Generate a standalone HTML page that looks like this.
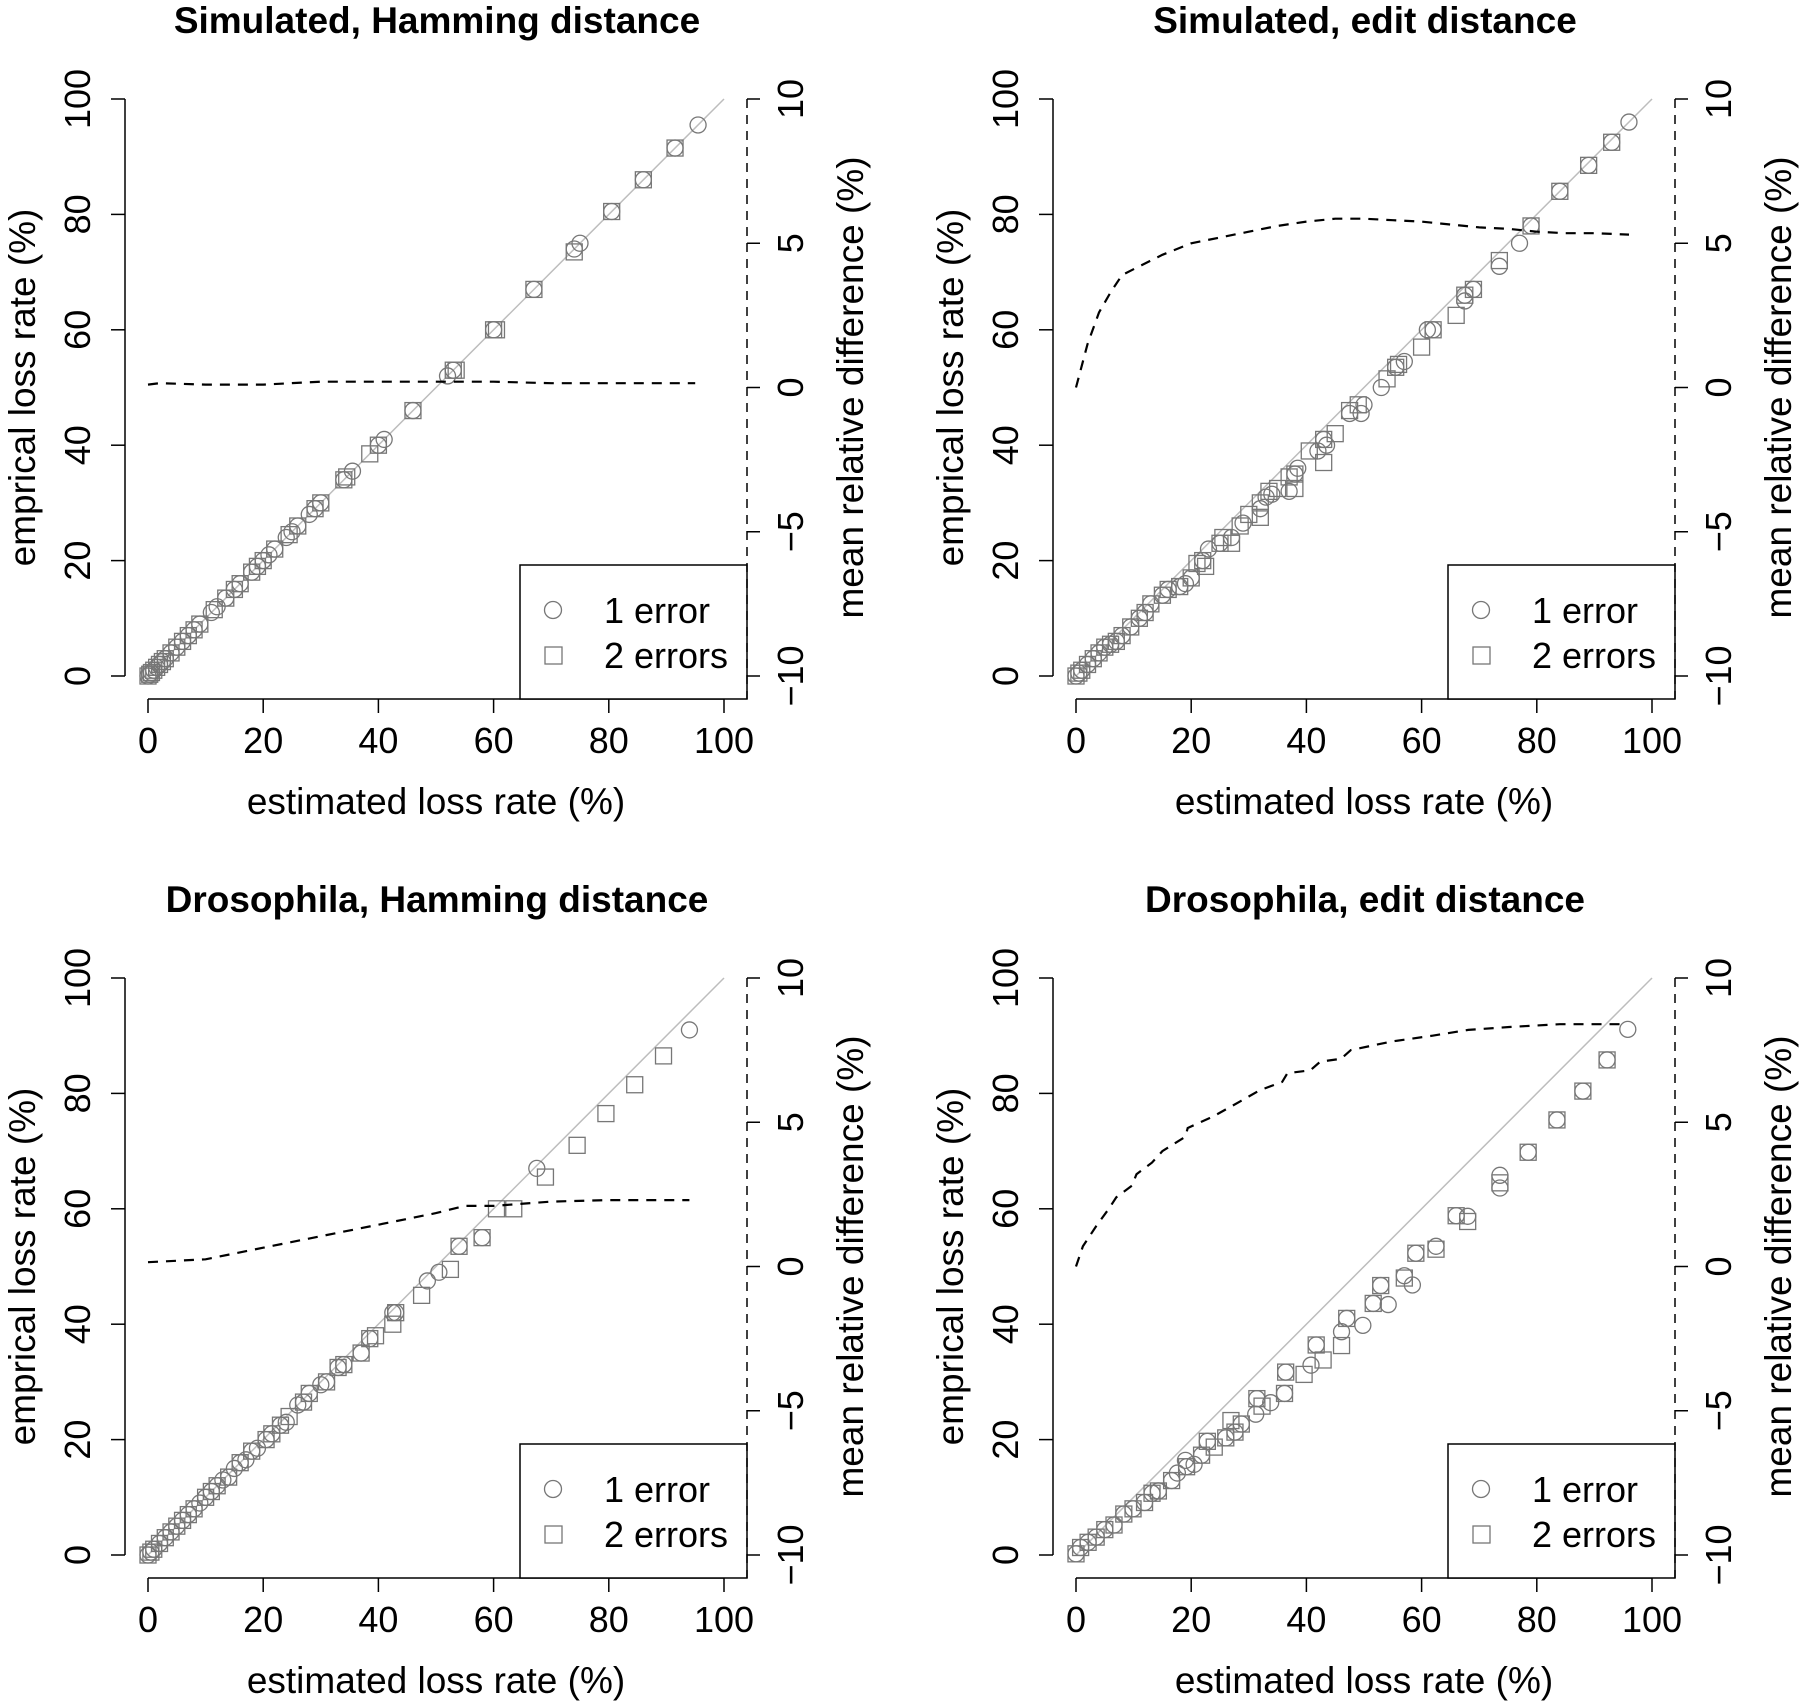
<!DOCTYPE html>
<html><head><meta charset="utf-8"><style>
html,body{margin:0;padding:0;background:#fff;}
svg{display:block;font-family:"Liberation Sans",Arial,sans-serif;}
</style></head><body>
<svg id="fig" width="1800" height="1702" viewBox="0 0 1800 1702" xmlns="http://www.w3.org/2000/svg"></svg>
<script>
// ---- data ----
const xTicks = [0,20,40,60,80,100];
const yTicks = [0,20,40,60,80,100];
const rTicks = [-10,-5,0,5,10];
const rTickLabels = ["\u221210","\u22125","0","5","10"];
const titles = ["Simulated, Hamming distance","Simulated, edit distance","Drosophila, Hamming distance","Drosophila, edit distance"];

// Panel 1: Simulated, Hamming
const p1CircX = [0,0.3,0.6,1,1.5,2,2.5,3,4,5,6,7,8,9,11,12,13.5,15,16,18,19,20,21,22,24,25,26,28,29,30,34,35.5,40,41,46,52,53,60,67,74,75,80.5,86,91.5,95.5];
const p1CircY = [0,0.3,0.6,1,1.5,2,2.5,3,4,5,6,7,8,9,11,12,13.5,15,16,18,19,20,21,22,24,25,26,28,29,30,34,35.5,40,41,46,52,53,60,67,74,75,80.5,86,91.5,95.5];
const p1SqX = [0,0.3,0.6,1,1.5,2,2.5,3,4,5,6,7,8,9,11.5,13.5,15,16,18,19,20,22,24.5,26,29,30,34,34.5,38.5,40,46,53,53.5,60,60.5,67,74,80.5,86,91.5];
const p1SqY = [0,0.3,0.6,1,1.5,2,2.5,3,4,5,6,7,8,9,11.5,13.5,15,16,18,19,20,22,24.5,26,29,30,34,34.5,38.5,40,46,53,53,60,60,67,73.5,80.5,86,91.5];
const p1DashX = [0,2,10,20,30,40,50,60,70,80,90,95];
const p1DashY = [0.1,0.15,0.1,0.1,0.2,0.2,0.2,0.2,0.15,0.15,0.15,0.15];

// Panel 2: Simulated, edit
const p2CircX = [0,0.5,1,2,3,4,5,6,7,8,9.5,11,12,13,15,16,18,19,20,22,23,25,27,29,32,33,34,37,38,38.5,42,43,43.5,47.5,49.5,50,53,55.5,57,61,62,67.5,67.5,69,73.5,77,79,84,89,93,96];
const p2CircY = [0,0.5,1,2,3,4,5,5.5,6,7,8.5,10,11,12.5,14,15,15.5,16,17,20,22,23,24,26.5,29,31,31.5,32,35,36,39,41,40,45.5,45.5,47,50,53.5,54.5,60,60,65,66,67,71,75,78,84,88.5,92.5,96];
const p2SqX = [0,0.5,1,2,3,4,5,6,7,8,9.5,11,12,13,15,16,18,20,21,22,22.5,25,25.5,27,28.5,30,32,32,33.5,35,37,38,38,40.5,43,43,45,47.5,49,54,55.5,56,60,62,66,67.5,69,73.5,79,84,89,93];
const p2SqY = [0,0.5,1,2,3,4,5,5.5,6,7,8.5,10,11,12.5,14,15,15.5,17,19.5,20,19,23,24,23,26,28,27.5,30,32,32.5,34.5,35,32.5,39,37,41,42,46,47,51.5,53.5,54,57,60,62.5,66,67,72,78,84,88.5,92.5];
const p2DashX = [0,2,4,6,8,10,15,20,25,30,35,40,45,50,55,60,65,70,75,80,85,90,96];
const p2DashY = [0,1.5,2.6,3.3,3.9,4.1,4.6,5.0,5.2,5.4,5.6,5.75,5.85,5.85,5.8,5.75,5.65,5.55,5.5,5.4,5.35,5.35,5.3];

// Panel 3: Drosophila, Hamming
const p3CircX = [0,0.5,1,2,3,4,5,6,7,8,9,10,11,12,13,14,15,16,17,18,19,20.5,21.5,23,24,26,27,28,30,31,33,34,37,38.5,42.5,43,48.5,50.5,54,58,67.5,94];
const p3CircY = [0,0.5,1,2,3,4,5,6,7,8,9,10,11,12,13,13.5,15,16,16.5,18,18.5,20,21,22.5,23,26,26.5,28,29.5,30,32.5,33,35,37.5,42,42,47.5,49,53.5,55,67,91];
const p3SqX = [0,0.5,1,2,3,4,5,6,7,8,10,11,12,14,16,18,20.5,21.5,23,24.5,27,28,31,33,34,37,38.5,39.5,42.5,43,47.5,52.5,54,58,60.5,63.5,69,74.5,79.5,84.5,89.5];
const p3SqY = [0,0.5,1,2,3,4,5,6,7,8,10,11,12,13.5,16,18,20,21,22.5,24,26.5,28,30,32.5,33,35,37.5,38,40,42,45,49.5,53.5,55,60,60,65.5,71,76.5,81.5,86.5];
const p3DashX = [0,10,20,30,40,50,55,60,70,80,94];
const p3DashY = [0.15,0.25,0.65,1.05,1.45,1.85,2.1,2.1,2.25,2.3,2.3];

// Panel 4: Drosophila, edit
const p4CircX = [0,0.8,2.1,3.5,5,6.6,8.3,9.9,11.9,13.2,14.3,16.6,17.6,19,19.2,20.5,21.8,22.8,26,27.6,28.7,31.2,31.4,33.8,36.2,36.4,40.8,41.7,46.1,47,49.8,51.6,52.9,54.2,57,58.4,59,62.5,66,68,73.6,73.6,78.5,83.5,88,92.2,95.8];
const p4CircY = [0.2,1.3,2.2,3.1,4.4,5.2,7.1,8,9.1,10.7,11.1,12.9,14.2,16.4,15.3,15.7,17.3,19.7,20.3,21.3,22.7,24.4,27.1,26.4,28,31.7,32.9,36.4,38.7,41,39.8,43.6,46.7,43.4,48.4,46.8,52.3,53.5,58.8,58.7,65.8,63.6,69.8,75.4,80.4,85.8,91.1];
const p4SqX = [0,0.8,2.1,3.5,5,6.6,8.3,9.9,11.9,13.2,14.3,16.6,19.2,21.8,22.8,24,26,26.9,27.6,28.7,31.4,32.3,36.2,36.4,39.6,41.7,42.9,46.1,47,51.6,52.9,57,59,62.5,66,68,73.6,78.5,83.5,88,92.2];
const p4SqY = [0.2,1.3,2.2,3.1,4.4,5.2,7.1,8,9.1,10.7,11.1,12.9,15.3,17.3,19.7,18.7,20.3,23.3,21.3,22.7,27.1,25.8,28,31.7,31.3,36.4,33.8,36.3,41,43.6,46.7,48,52.3,53,58.8,57.8,64.5,69.8,75.4,80.4,85.8];
const p4DashX = [0,1.2,3.5,5.7,7,9.7,10.5,13.2,15,19,19.4,23.8,28.3,31.8,35.8,36.7,40.7,42.4,46,47.7,54.8,61.9,68.1,75.2,84,94.7];
const p4DashY = [0,0.7,1.4,2,2.4,2.8,3.2,3.6,4.0,4.5,4.8,5.2,5.7,6.1,6.4,6.7,6.8,7.1,7.2,7.5,7.8,8.0,8.2,8.3,8.4,8.4];

const panels = [
 {ox:0,oy:0,cx:p1CircX,cy:p1CircY,sx:p1SqX,sy:p1SqY,dx:p1DashX,dy:p1DashY},
 {ox:928,oy:0,cx:p2CircX,cy:p2CircY,sx:p2SqX,sy:p2SqY,dx:p2DashX,dy:p2DashY},
 {ox:0,oy:879,cx:p3CircX,cy:p3CircY,sx:p3SqX,sy:p3SqY,dx:p3DashX,dy:p3DashY},
 {ox:928,oy:879,cx:p4CircX,cy:p4CircY,sx:p4SqX,sy:p4SqY,dx:p4DashX,dy:p4DashY}
];

const NS = "http://www.w3.org/2000/svg";
const svg = document.getElementById('fig');
function mk(tag, attrs, parent, text){
  const e = document.createElementNS(NS, tag);
  for (const k in attrs) e.setAttribute(k, attrs[k]);
  if (text !== undefined) e.textContent = text;
  parent.appendChild(e);
  return e;
}

panels.forEach((p, i) => {
  const ox = p.ox, oy = p.oy;
  const X = v => ox + 148 + 5.76 * v;
  const Y = v => oy + 676 - 5.77 * v;
  const R = v => Y(50 + 5 * v);
  const g = mk('g', {}, svg);
  
  

  const t = mk('text', {x: ox + 437, y: oy + 33, 'text-anchor': 'middle', 'font-size': 37, 'font-weight': 'bold'}, g, titles[i]);
  
  

  const diag = mk('line', {x1: X(0), y1: Y(0), x2: X(100), y2: Y(100), stroke: '#bdbdbd', 'stroke-width': 1.5}, g);
  
  

  const la = mk('g', {}, g);
  
  
  mk('line', {x1: ox + 125, y1: Y(0), x2: ox + 125, y2: Y(100), stroke: '#000', 'stroke-width': 1.5}, la);
  yTicks.forEach(v => {
    mk('line', {x1: ox + 111, y1: Y(v), x2: ox + 125, y2: Y(v), stroke: '#000', 'stroke-width': 1.5}, la);
    const tl = mk('text', {x: 0, y: 0, transform: `translate(${ox + 90},${Y(v)}) rotate(-90)`, 'text-anchor': 'middle', 'font-size': 36}, la, String(v));
    
    
  });
  const yl = mk('text', {x: 0, y: 0, transform: `translate(${ox + 35},${Y(50)}) rotate(-90)`, 'text-anchor': 'middle', 'font-size': 37}, g, 'emprical loss rate (%)');
  
  

  const ba = mk('g', {}, g);
  
  
  mk('line', {x1: X(0), y1: oy + 699, x2: X(100), y2: oy + 699, stroke: '#000', 'stroke-width': 1.5}, ba);
  xTicks.forEach(v => {
    mk('line', {x1: X(v), y1: oy + 699, x2: X(v), y2: oy + 713, stroke: '#000', 'stroke-width': 1.5}, ba);
    const tl = mk('text', {x: X(v), y: oy + 753, 'text-anchor': 'middle', 'font-size': 36}, ba, String(v));
    
    
  });
  const xl = mk('text', {x: X(50), y: oy + 814, 'text-anchor': 'middle', 'font-size': 37}, g, 'estimated loss rate (%)');
  
  

  p.cx.forEach((v, k) => {
    const c = mk('circle', {cx: X(v), cy: Y(p.cy[k]), r: 8, fill: 'none', stroke: '#777', 'stroke-width': 1.3}, g);
    
    
  });
  p.sx.forEach((v, k) => {
    const s = mk('rect', {x: X(v) - 8, y: Y(p.sy[k]) - 8, width: 16, height: 16, fill: 'none', stroke: '#777', 'stroke-width': 1.3}, g);
    
    
  });

  const d = p.dx.map((v, k) => `${k ? 'L' : 'M'}${X(v).toFixed(1)},${R(p.dy[k]).toFixed(1)}`).join(' ');
  const dl = mk('path', {d: d, fill: 'none', stroke: '#000', 'stroke-width': 2.2, 'stroke-dasharray': '10,8'}, g);
  
  

  const lg = mk('g', {}, g);
  
  
  mk('rect', {x: ox + 520, y: oy + 565, width: 227, height: 134, fill: '#fff', stroke: '#000', 'stroke-width': 1.5}, lg);
  mk('circle', {cx: ox + 553, cy: oy + 610, r: 8.5, fill: 'none', stroke: '#777', 'stroke-width': 1.3}, lg);
  const l1 = mk('text', {x: ox + 604, y: oy + 623, 'font-size': 36}, lg, '1 error');
  
  
  mk('rect', {x: ox + 545, y: oy + 647, width: 17, height: 17, fill: 'none', stroke: '#777', 'stroke-width': 1.3}, lg);
  const l2 = mk('text', {x: ox + 604, y: oy + 668, 'font-size': 36}, lg, '2 errors');
  
  

  const ra = mk('g', {}, g);
  
  
  mk('line', {x1: ox + 747, y1: R(10), x2: ox + 747, y2: oy + 699, stroke: '#000', 'stroke-width': 1.5, 'stroke-dasharray': '9,7'}, ra);
  rTicks.forEach((v, k) => {
    mk('line', {x1: ox + 747, y1: R(v), x2: ox + 760, y2: R(v), stroke: '#000', 'stroke-width': 1.5}, ra);
    const tl = mk('text', {x: 0, y: 0, transform: `translate(${ox + 803},${R(v)}) rotate(-90)`, 'text-anchor': 'middle', 'font-size': 36}, ra, rTickLabels[k]);
    
    
  });
  const rl = mk('text', {x: 0, y: 0, transform: `translate(${ox + 863},${R(0)}) rotate(-90)`, 'text-anchor': 'middle', 'font-size': 37}, g, 'mean relative difference (%)');
  
  
});
</script>
</body></html>
